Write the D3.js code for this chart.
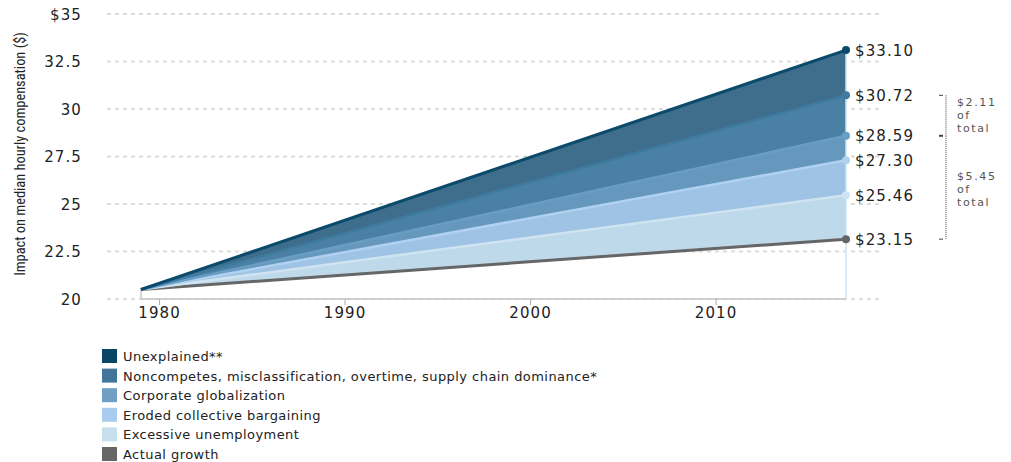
<!DOCTYPE html>
<html>
<head>
<meta charset="utf-8">
<script src="https://cdn.jsdelivr.net/npm/d3@7"></script>
<style>
  html, body { margin: 0; padding: 0; background: #fff; }
  svg { display: block; }
  .tick-label { font-family: "DejaVu Sans", sans-serif; font-size: 15px; fill: #222; letter-spacing: 1.1px; }
</style>
</head>
<body>
<svg id="chart" width="1011" height="462"></svg>
<script>
// ---- data ----
const years = [1979, 2017];
const seriesNames = [
  "Unexplained**",
  "Noncompetes, misclassification, overtime, supply chain dominance*",
  "Corporate globalization",
  "Eroded collective bargaining",
  "Excessive unemployment",
  "Actual growth"
];
const startValues = [20.5, 20.5, 20.5, 20.5, 20.5, 20.5];
const endValues = [33.10, 30.72, 28.59, 27.30, 25.46, 23.15];
const endLabels = ["$33.10", "$30.72", "$28.59", "$27.30", "$25.46", "$23.15"];
const yTicks = [20, 22.5, 25, 27.5, 30, 32.5, 35];
const yTickLabels = ["20", "22.5", "25", "27.5", "30", "32.5", "$35"];
const xTicks = [1980, 1990, 2000, 2010];
const bracketRanges = [[30.72, 28.59], [28.59, 23.15]];
const bracketLabels = [["$2.11", "of", "total"], ["$5.45", "of", "total"]];

// ---- styles ----
const legendColors = ["#0b4566", "#417599", "#6f9fc3", "#a9cbee", "#c7e0ee", "#666666"];
const areaColors = ["#3e6e8b", "#4a80a3", "#6698bd", "#9ec3e5", "#bed9ea"];
const lineColors = ["#0c4a6b", "#3f7ba1", "#6a9dc2", "#b0d1f0", "#cfe4f0", "#666666"];
const dotColors = ["#0c4a6b", "#3f7ba1", "#6d9fc3", "#b0d1f0", "#cfe4f0", "#666666"];

const svg = d3.select("#chart");
const x = d3.scaleLinear().domain([1979, 2017]).range([141, 846]);
const y = d3.scaleLinear().domain([20, 35]).range([299, 14]);

const series = seriesNames.map((name, i) => ({
  name,
  values: years.map((yr, j) => ({ year: yr, value: j === 0 ? startValues[i] : endValues[i] }))
}));

// gridlines
const grid = svg.append("g");
grid.selectAll("line").data(yTicks).join("line")
  .attr("x1", 107).attr("x2", 882)
  .attr("y1", d => y(d)).attr("y2", d => y(d))
  .attr("stroke", "#dcdcdc").attr("stroke-width", 2)
  .attr("stroke-dasharray", "4,4");

// x axis solid line across data range
svg.append("line")
  .attr("x1", x(years[0])).attr("x2", x(years[1]))
  .attr("y1", y(20)).attr("y2", y(20))
  .attr("stroke", "#c4c4c4").attr("stroke-width", 1.5);

// x ticks
const xg = svg.append("g");
xg.selectAll("line").data(xTicks).join("line")
  .attr("x1", d => x(d)).attr("x2", d => x(d))
  .attr("y1", y(20)).attr("y2", y(20) + 6)
  .attr("stroke", "#aaa").attr("stroke-width", 1);
xg.selectAll("text").data(xTicks).join("text")
  .attr("class", "tick-label")
  .attr("x", d => x(d)).attr("y", y(20) + 19)
  .attr("text-anchor", "middle")
  .text(d => d);

// y tick labels
svg.append("g").selectAll("text").data(yTicks).join("text")
  .attr("class", "tick-label")
  .attr("x", 82).attr("y", d => y(d) + 5.5)
  .attr("text-anchor", "end")
  .text((d, i) => yTickLabels[i]);

// y axis title
svg.append("text")
  .attr("transform", `translate(25,${154}) rotate(-90)`)
  .attr("text-anchor", "middle")
  .style("font-family", "'Liberation Sans Narrow', 'Roboto Condensed', 'Liberation Sans', sans-serif")
  .style("font-size", "14.4px")
  .style("fill", "#222")
  .text("Impact on median hourly compensation ($)");

// start vertical line
svg.append("line")
  .attr("x1", x(years[0])).attr("x2", x(years[0]))
  .attr("y1", y(startValues[5])).attr("y2", y(20))
  .attr("stroke", "#c8c8c8").attr("stroke-width", 1.5);

// areas between consecutive series
const area = d3.area()
  .x(d => x(d.year))
  .y0(d => d.low)
  .y1(d => d.high);
for (let i = 0; i < 5; i++) {
  const pts = years.map((yr, j) => ({
    year: yr,
    high: y(series[i].values[j].value),
    low: y(series[i + 1].values[j].value)
  }));
  svg.append("path").datum(pts)
    .attr("d", area)
    .attr("fill", areaColors[i]);
}

// end vertical line
svg.append("line")
  .attr("x1", x(years[1])).attr("x2", x(years[1]))
  .attr("y1", y(endValues[0])).attr("y2", y(20))
  .attr("stroke", "#cfe4f0").attr("stroke-width", 1.5);

// lines, drawn bottom to top
const line = d3.line().x(d => x(d.year)).y(d => y(d.value));
for (let i = 5; i >= 0; i--) {
  svg.append("path").datum(series[i].values)
    .attr("d", line)
    .attr("fill", "none")
    .attr("stroke", lineColors[i])
    .attr("stroke-width", (i === 0 || i === 5) ? 3 : 2.5);
}

// end dots
svg.append("g").selectAll("circle").data(endValues).join("circle")
  .attr("cx", x(years[1])).attr("cy", d => y(d))
  .attr("r", 4)
  .attr("fill", (d, i) => dotColors[i]);

// end labels, clipped
svg.append("clipPath").attr("id", "labclip")
  .append("rect").attr("x", 850).attr("y", 0).attr("width", 63).attr("height", 320);
svg.append("g").attr("clip-path", "url(#labclip)")
  .selectAll("text").data(endValues).join("text")
  .attr("class", "tick-label")
  .attr("x", 855).attr("y", d => y(d) + 5.5)
  .text((d, i) => endLabels[i]);

// brackets
const bx = 946;
const bg = svg.append("g");
bracketRanges.forEach((r, k) => {
  bg.append("line")
    .attr("x1", bx).attr("x2", bx)
    .attr("y1", y(r[0])).attr("y2", y(r[1]))
    .attr("stroke", "#444").attr("stroke-width", 1)
    .attr("stroke-dasharray", "1,1");
  bracketLabels[k].forEach((t, j) => {
    bg.append("text")
      .attr("x", 957)
      .attr("y", y(r[0]) + 10.5 + j * 13 + (k === 1 ? 33.5 : 0))
      .style("font-family", "'DejaVu Sans', sans-serif")
      .style("font-size", "11px")
      .style("letter-spacing", "1.6px")
      .style("fill", "#555")
      .text(t);
  });
});
[bracketRanges[0][0], bracketRanges[0][1], bracketRanges[1][1]].forEach((v, i) => {
  bg.append("line")
    .attr("x1", bx - 7).attr("x2", bx - 3)
    .attr("y1", y(v)).attr("y2", y(v))
    .attr("stroke", "#444").attr("stroke-width", i === 1 ? 2 : 1);
});

// legend
const lg = svg.append("g");
seriesNames.forEach((name, i) => {
  const cy = 356 + i * 19.6;
  lg.append("rect")
    .attr("x", 102).attr("y", cy - 7).attr("width", 15).attr("height", 14)
    .attr("fill", legendColors[i]);
  lg.append("text")
    .attr("x", 123).attr("y", cy + 5)
    .style("font-family", "'DejaVu Sans', sans-serif")
    .style("font-size", "13px")
    .style("letter-spacing", "0.45px")
    .style("fill", "#222")
    .text(name);
});
</script>
</body>
</html>
